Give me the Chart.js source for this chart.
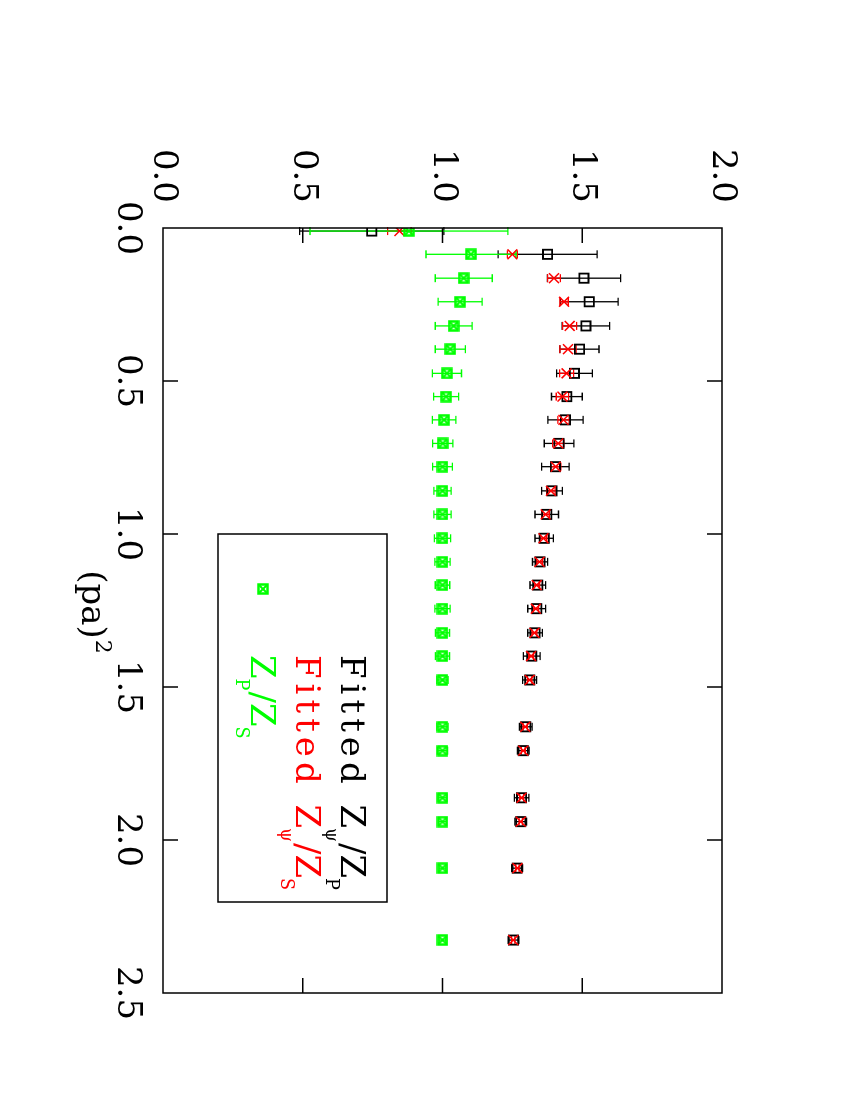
<!DOCTYPE html>
<html>
<head>
<meta charset="utf-8">
<script src="https://cdn.jsdelivr.net/npm/chart.js@4.4.0/dist/chart.umd.min.js"></script>
<style>
  html, body { margin: 0; padding: 0; background: #fff; }
  body { width: 850px; height: 1100px; overflow: hidden; position: relative; }
  /* the plot is landscape, turned a quarter clockwise on the page */
  #wrap { position: absolute; left: 0; top: 0; width: 1100px; height: 850px;
          transform-origin: 0 0; transform: translateX(850px) rotate(90deg); }
</style>
</head>
<body>
<div id="wrap"><canvas id="chart" width="1100" height="850"></canvas></div>
<script>
// (pa)^2 momenta
const pa2 = [0.010, 0.086, 0.164, 0.241, 0.320, 0.396, 0.475, 0.551, 0.627, 0.704,
             0.780, 0.859, 0.936, 1.014, 1.091, 1.167, 1.244, 1.323, 1.399, 1.477,
             1.630, 1.708, 1.862, 1.940, 2.092, 2.327];

// Fitted Z_psi/Z_P
const zPsiZP = [0.747, 1.376, 1.506, 1.525, 1.513, 1.490, 1.472, 1.445, 1.440, 1.417,
                1.404, 1.392, 1.373, 1.364, 1.349, 1.341, 1.337, 1.331, 1.319, 1.312,
                1.298, 1.289, 1.283, 1.280, 1.267, 1.254];
const zPsiZPErr = [0.258, 0.177, 0.131, 0.103, 0.085, 0.070, 0.064, 0.055, 0.063, 0.053,
                   0.049, 0.037, 0.042, 0.033, 0.027, 0.028, 0.032, 0.026, 0.030, 0.025,
                   0.023, 0.021, 0.026, 0.021, 0.020, 0.019];

// Fitted Z_psi/Z_S
const zPsiZS = [0.846, 1.250, 1.399, 1.435, 1.455, 1.449, 1.444, 1.429, 1.433, 1.414,
                1.405, 1.388, 1.369, 1.361, 1.347, 1.337, 1.334, 1.329, 1.317, 1.312,
                1.296, 1.289, 1.283, 1.280, 1.268, 1.253];
const zPsiZSErr = [0.042, 0.018, 0.023, 0.015, 0.025, 0.029, 0.025, 0.022, 0.020, 0.020,
                   0.018, 0.015, 0.013, 0.012, 0.011, 0.010, 0.010, 0.009, 0.009, 0.008,
                   0.008, 0.007, 0.007, 0.006, 0.006, 0.006];

// Z_P/Z_S
const zPZS = [0.880, 1.102, 1.076, 1.063, 1.040, 1.028, 1.016, 1.013, 1.006, 1.001,
              1.000, 1.000, 1.000, 1.000, 1.000, 1.000, 1.000, 1.000, 1.000, 1.000,
              1.000, 1.000, 1.000, 1.000, 1.000, 1.000];
const zPZSErr = [0.354, 0.161, 0.102, 0.079, 0.066, 0.054, 0.052, 0.045, 0.042, 0.036,
                 0.035, 0.031, 0.031, 0.029, 0.027, 0.026, 0.027, 0.025, 0.025, 0.020,
                 0.020, 0.018, 0.016, 0.014, 0.012, 0.012];

const xTicks = [0, 0.5, 1.0, 1.5, 2.0, 2.5];
const yTicks = [0, 0.5, 1.0, 1.5, 2.0];

const FONT = '"DejaVu Serif", "Liberation Serif", serif';
const BLACK = '#000000', RED = '#ff0000', GREEN = '#00ff00';

// green square with a cross through it
function boxCross(color) {
  const c = document.createElement('canvas');
  c.width = c.height = 12;
  const g = c.getContext('2d');
  g.strokeStyle = color;
  g.lineWidth = 2.5;
  g.strokeRect(1.5, 1.5, 9, 9);
  g.lineWidth = 2;
  g.beginPath();
  g.moveTo(2, 2); g.lineTo(10, 10);
  g.moveTo(10, 2); g.lineTo(2, 10);
  g.stroke();
  return c;
}
const greenMark = boxCross(GREEN);

const toPoints = vals => pa2.map((x, i) => ({ x: x, y: vals[i] }));

// error bars, drawn under the markers
const errorBars = {
  id: 'errorBars',
  beforeDatasetsDraw(chart) {
    const { ctx, scales: { x, y } } = chart;
    chart.data.datasets.forEach(ds => {
      ctx.save();
      ctx.strokeStyle = ds.borderColor;
      ctx.lineWidth = 1.3;
      ds.data.forEach((p, i) => {
        const px = x.getPixelForValue(p.x);
        const lo = y.getPixelForValue(p.y - ds.errors[i]);
        const hi = y.getPixelForValue(p.y + ds.errors[i]);
        ctx.beginPath();
        ctx.moveTo(px, lo); ctx.lineTo(px, hi);
        ctx.moveTo(px - 4, lo); ctx.lineTo(px + 4, lo);
        ctx.moveTo(px - 4, hi); ctx.lineTo(px + 4, hi);
        ctx.stroke();
      });
      ctx.restore();
    });
  }
};

// text with subscripts: parts = [[text, isSub, spacing], ...]
function richText(ctx, parts, x, y, size, color) {
  ctx.fillStyle = color;
  ctx.textAlign = 'left';
  ctx.textBaseline = 'alphabetic';
  parts.forEach(([t, sub, sp]) => {
    ctx.font = (sub ? size * 0.52 : size) + 'px ' + FONT;
    ctx.letterSpacing = (sp || 0) + 'px';
    ctx.fillText(t, x, sub ? y + 15 : y);
    x += ctx.measureText(t).width + (sub ? 1 : 0);
  });
  ctx.letterSpacing = '0px';
}

// frame, inward ticks, axis title and the boxed key
const frame = {
  id: 'frame',
  afterDraw(chart) {
    const { ctx, chartArea: a, scales: { x, y } } = chart;
    ctx.save();
    ctx.strokeStyle = BLACK;
    ctx.lineWidth = 1.5;
    ctx.strokeRect(a.left, a.top, a.right - a.left, a.bottom - a.top);
    ctx.beginPath();
    xTicks.slice(1, -1).forEach(v => {
      const px = x.getPixelForValue(v);
      ctx.moveTo(px, a.bottom); ctx.lineTo(px, a.bottom - 15);
      ctx.moveTo(px, a.top); ctx.lineTo(px, a.top + 15);
    });
    yTicks.slice(1, -1).forEach(v => {
      const py = y.getPixelForValue(v);
      ctx.moveTo(a.left, py); ctx.lineTo(a.left + 15, py);
      ctx.moveTo(a.right, py); ctx.lineTo(a.right - 15, py);
    });
    ctx.stroke();

    // x title "(pa)^2", centred under the plot
    ctx.fillStyle = BLACK;
    ctx.font = '34px ' + FONT;
    ctx.textBaseline = 'alphabetic';
    ctx.textAlign = 'left';
    const tw = ctx.measureText('(pa)').width;
    const tx = (a.left + a.right) / 2 - tw / 2 - 6;
    ctx.fillText('(pa)', tx, 768);
    ctx.font = '22px ' + FONT;
    ctx.fillText('2', tx + tw + 1, 754);

    // key box
    ctx.lineWidth = 1.5;
    ctx.strokeRect(534, 463, 368, 169);
    const rows = [
      { v: 497, color: BLACK, style: 'rect',
        parts: [['Fitted ', false, 5], ['Z', false], ['\u03c8', true], ['/Z', false], ['P', true]] },
      { v: 542, color: RED, style: 'crossRot',
        parts: [['Fitted ', false, 5], ['Z', false], ['\u03c8', true], ['/Z', false], ['S', true]] },
      { v: 587, color: GREEN, style: greenMark,
        parts: [['Z', false], ['P', true], ['/Z', false], ['S', true]] }
    ];
    rows.forEach(r => {
      ctx.strokeStyle = r.color;
      ctx.fillStyle = r.style === 'rect' ? 'rgba(0,0,0,0)' : r.color;
      ctx.lineWidth = r.style === 'crossRot' ? 1.5 : 1.8;
      Chart.helpers.drawPoint(ctx, { pointStyle: r.style, radius: r.style === 'rect' ? 6.5 : 7, rotation: 0 }, 589, r.v);
      richText(ctx, r.parts, 655, r.v + 12, 34, r.color);
    });
    ctx.restore();
  }
};

const tickFont = { family: FONT, size: 34 };

new Chart(document.getElementById('chart'), {
  type: 'scatter',
  data: {
    datasets: [
      {
        label: 'Fitted Z_psi/Z_P',
        data: toPoints(zPsiZP),
        errors: zPsiZPErr,
        borderColor: BLACK,
        backgroundColor: 'rgba(0,0,0,0)',
        pointStyle: 'rect',
        pointRadius: 6.5,
        borderWidth: 1.8,
        order: 2
      },
      {
        label: 'Fitted Z_psi/Z_S',
        data: toPoints(zPsiZS),
        errors: zPsiZSErr,
        borderColor: RED,
        backgroundColor: RED,
        pointStyle: 'crossRot',
        pointRadius: 7,
        borderWidth: 1.5,
        order: 1
      },
      {
        label: 'Z_P/Z_S',
        data: toPoints(zPZS),
        errors: zPZSErr,
        borderColor: GREEN,
        backgroundColor: GREEN,
        pointStyle: greenMark,
        pointRadius: 6,
        order: 0
      }
    ]
  },
  options: {
    responsive: false,
    animation: false,
    layout: { padding: { top: 128, right: 107, left: 0, bottom: 0 } },
    plugins: { legend: { display: false }, tooltip: { enabled: false } },
    scales: {
      x: {
        type: 'linear',
        min: 0,
        max: 2.5,
        afterFit: s => { s.height = 163; },
        afterBuildTicks: s => { s.ticks = xTicks.map(v => ({ value: v })); },
        grid: { display: false, drawTicks: false },
        border: { display: false },
        ticks: { font: tickFont, color: BLACK, padding: 16, maxRotation: 0,
                 callback: v => v.toFixed(1) }
      },
      y: {
        type: 'linear',
        min: 0,
        max: 2.0,
        afterFit: s => { s.width = 228; },
        afterBuildTicks: s => { s.ticks = yTicks.map(v => ({ value: v })); },
        grid: { display: false, drawTicks: false },
        border: { display: false },
        ticks: { font: tickFont, color: BLACK, padding: 25,
                 callback: v => v.toFixed(1) }
      }
    }
  },
  plugins: [errorBars, frame]
});
</script>
</body>
</html>
